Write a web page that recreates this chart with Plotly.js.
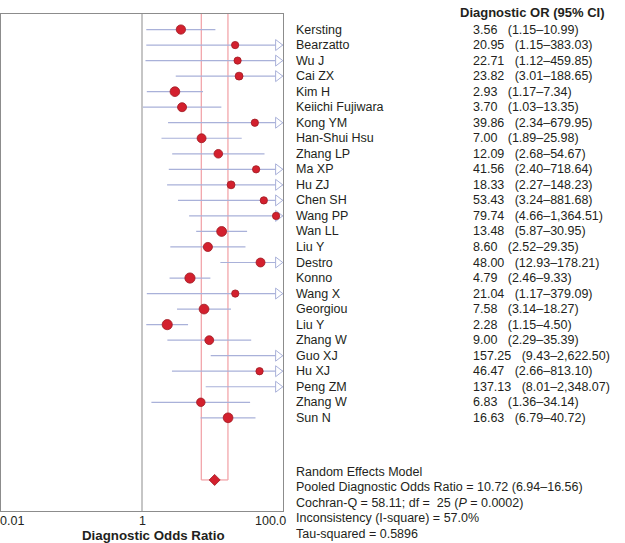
<!DOCTYPE html>
<html>
<head>
<meta charset="utf-8">
<script src="https://cdn.plot.ly/plotly-3.0.1.min.js"></script>
<style>html,body{margin:0;padding:0;background:#fff;}#chart{width:625px;height:543px;}</style>
</head>
<body>
<div id="chart"></div>
<script>
// ---- data ----
const studies = ["Kersting","Bearzatto","Wu J","Cai ZX","Kim H","Keiichi Fujiwara","Kong YM","Han-Shui Hsu","Zhang LP","Ma XP","Hu ZJ","Chen SH","Wang PP","Wan LL","Liu Y","Destro","Konno","Wang X","Georgiou","Liu Y","Zhang W","Guo XJ","Hu XJ","Peng ZM","Zhang W","Sun N"];
const dor   = [3.56,20.95,22.71,23.82,2.93,3.70,39.86,7.00,12.09,41.56,18.33,53.43,79.74,13.48,8.60,48.00,4.79,21.04,7.58,2.28,9.00,157.25,46.47,137.13,6.83,16.63];
const lower = [1.15,1.15,1.12,3.01,1.17,1.03,2.34,1.89,2.68,2.40,2.27,3.24,4.66,5.87,2.52,12.93,2.46,1.17,3.14,1.15,2.29,9.43,2.66,8.01,1.36,6.79];
const upper = [10.99,383.03,459.85,188.65,7.34,13.35,679.95,25.98,54.67,718.64,148.23,881.68,1364.51,30.95,29.35,178.21,9.33,379.09,18.27,4.50,35.39,2622.50,813.10,2348.07,34.14,40.72];
const pooledDor = 10.72, pooledLo = 6.94, pooledHi = 16.56;
const cochranQ = "58.11", qDf = 25, qP = "0.0002", iSquare = "57.0", tauSquared = "0.5896";
const tickVals = [0.01, 1, 100];
const tickLabels = ["0.01", "1", "100.0"];

// ---- layout geometry ----
const W = 625, H = 543;
const L = 1, R = 342, T = 14, B = 32;
const PW = W - L - R, PH = H - T - B;
const xMinLog = -2, xMaxLog = 2;
const pxPerDecade = PW / (xMaxLog - xMinLog);
const pooledRow = 29;
const px2x = p => (p - L) / PW;
const py2y = p => (H - B - p) / PH;

const fmt = v => v.toLocaleString('en-US', {minimumFractionDigits: 2, maximumFractionDigits: 2});
const rows = studies.map((_, i) => i);

// CI segments
const ciX = [], ciY = [];
rows.forEach(i => { ciX.push(lower[i], upper[i], null); ciY.push(i, i, null); });

// arrows where CI exceeds axis max
const maxVal = Math.pow(10, xMaxLog);
const arrowRows = rows.filter(i => upper[i] > maxVal);
const arrowX = arrowRows.map(() => Math.pow(10, xMaxLog - 5 / pxPerDecade));

// marker size from random-effects weight
const tau2 = parseFloat(tauSquared);
const sizes = rows.map(i => {
  const se = (Math.log(upper[i]) - Math.log(lower[i])) / 3.92;
  const w = 1 / (se * se + tau2);
  return 6.3 + 2.76 * w;
});

const blue = '#a9b1d9';
const red = '#d3202e';
const redDark = '#9e1b22';
const pink = '#f2a6ab';
const txt = '#231f20';
const font = 'Liberation Sans, Arial, sans-serif';

const traces = [
  {type: 'scatter', mode: 'lines', x: ciX, y: ciY, line: {color: blue, width: 1.2}, hoverinfo: 'skip', showlegend: false},
  {type: 'scatter', mode: 'markers', x: arrowX, y: arrowRows,
   marker: {symbol: 'triangle-right', size: 9.5, color: '#ffffff', opacity: 1, line: {color: blue, width: 1}}, hoverinfo: 'skip', showlegend: false},
  {type: 'scatter', mode: 'markers', x: dor, y: rows, cliponaxis: true,
   marker: {symbol: 'circle', size: sizes, opacity: 1, color: red, line: {color: redDark, width: 0.8}}, showlegend: false},
  {type: 'scatter', mode: 'markers', x: [pooledDor], y: [pooledRow],
   marker: {symbol: 'diamond', size: 8.5, opacity: 1, color: red, line: {color: redDark, width: 0.8}}, showlegend: false}
];

const shapes = [
  {type: 'line', xref: 'x', yref: 'paper', x0: 1, x1: 1, y0: 0, y1: 1, line: {color: '#8c8c8c', width: 1}, layer: 'below'},
  {type: 'line', xref: 'x', yref: 'y', x0: pooledLo, x1: pooledLo, y0: -1, y1: pooledRow, line: {color: pink, width: 1.3}, layer: 'below'},
  {type: 'line', xref: 'x', yref: 'y', x0: pooledHi, x1: pooledHi, y0: -1, y1: pooledRow, line: {color: pink, width: 1.3}, layer: 'below'},
  {type: 'line', xref: 'x', yref: 'y', x0: pooledLo, x1: pooledHi, y0: pooledRow, y1: pooledRow, line: {color: pink, width: 1.3}, layer: 'below'}
];

const annotations = [];
const ann = (text, x, y, xanchor, extra) => Object.assign({
  text: text, x: x, y: y, xref: 'paper', yref: 'paper', xanchor: xanchor, yanchor: 'middle',
  showarrow: false, borderpad: 0, font: {family: font, size: 12.5, color: txt}
}, extra || {});

rows.forEach(i => {
  annotations.push(ann(studies[i], px2x(295), i, 'left', {yref: 'y'}));
  annotations.push(ann(fmt(dor[i]) + '\u00a0\u00a0 (' + fmt(lower[i]) + '\u2013' + fmt(upper[i]) + ')', px2x(472), i, 'left', {yref: 'y'}));
});
annotations.push(ann('<b>Diagnostic OR (95% CI)</b>', px2x(459), py2y(12.5), 'left', {font: {family: font, size: 13, color: txt}}));

const statLines = [
  'Random Effects Model',
  'Pooled Diagnostic Odds Ratio = ' + fmt(pooledDor) + ' (' + fmt(pooledLo) + '\u2013' + fmt(pooledHi) + ')',
  'Cochran-Q = ' + cochranQ + '; df = \u00a0' + qDf + ' (<i>P</i> = ' + qP + ')',
  'Inconsistency (I-square) = ' + iSquare + '%',
  'Tau-squared = ' + tauSquared
];
const statPy = [472.3, 487.3, 502.5, 518.3, 533.8];
statLines.forEach((s, k) => annotations.push(ann(s, px2x(295), py2y(statPy[k]), 'left')));

// tick labels
annotations.push(ann(tickLabels[0], px2x(-1), py2y(521), 'left'));
annotations.push(ann(tickLabels[1], px2x(L + (Math.log10(tickVals[1]) - xMinLog) * pxPerDecade), py2y(521), 'center'));
annotations.push(ann(tickLabels[2], px2x(287), py2y(521), 'right'));
annotations.push(ann('<b>Diagnostic Odds Ratio</b>', px2x(153.5), py2y(535.5), 'center', {font: {family: font, size: 13.3, color: txt}}));

const layout = {
  width: W, height: H,
  margin: {l: L, r: R, t: T, b: B, pad: 0},
  paper_bgcolor: '#ffffff', plot_bgcolor: '#ffffff',
  showlegend: false,
  xaxis: {type: 'log', range: [xMinLog, xMaxLog], showgrid: false, zeroline: false, showticklabels: false, ticks: '',
          showline: true, mirror: true, linecolor: '#8c8c8c', linewidth: 1, fixedrange: true},
  yaxis: {range: [31, -1], showgrid: false, zeroline: false, showticklabels: false, ticks: '',
          showline: true, mirror: true, linecolor: '#8c8c8c', linewidth: 1, fixedrange: true},
  shapes: shapes,
  annotations: annotations,
  font: {family: font, color: txt}
};

Plotly.newPlot('chart', traces, layout, {displayModeBar: false, staticPlot: true});
</script>
</body>
</html>
